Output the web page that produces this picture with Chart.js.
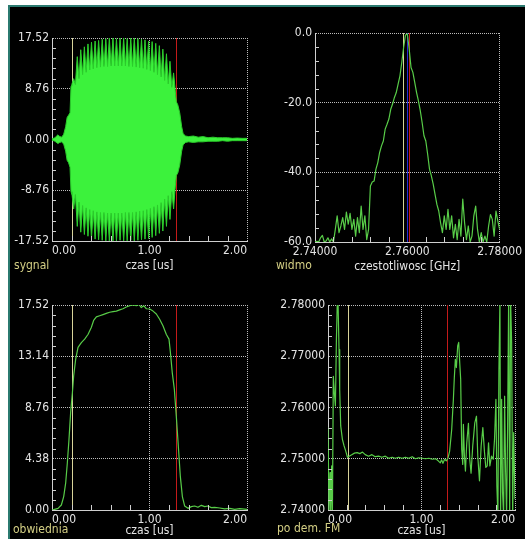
<!DOCTYPE html>
<html lang="pl">
<head>
<meta charset="utf-8">
<title>sygnal / widmo / obwiednia / po dem. FM</title>
<script src="https://cdn.jsdelivr.net/npm/chart.js@4"></script>
<style>
  html, body { margin: 0; padding: 0; background: #fff; }
  body { width: 525px; height: 539px; position: relative; overflow: hidden; }
  #ekran { position: absolute; left: 8px; top: 5px; width: 515px; height: 532px; background: #000;
           border-left: 2px solid #2b7a70; border-top: 2px solid #2b7a70; }
  canvas { position: absolute; }
  .nazwa { position: absolute; color: #d4cf84; line-height: 14px; white-space: nowrap;
           font: 12px "Liberation Sans Narrow", "Arial Narrow", "DejaVu Sans Condensed", sans-serif; }
</style>
</head>
<body>
<div id="ekran"></div>
<canvas id="cSygnal" width="252" height="272" style="left:10px;top:8px"></canvas>
<canvas id="cWidmo" width="263" height="272" style="left:262px;top:8px"></canvas>
<canvas id="cObwiednia" width="252" height="259" style="left:10px;top:280px"></canvas>
<canvas id="cFm" width="263" height="259" style="left:262px;top:280px"></canvas>
<div class="nazwa" style="left:14px;top:258px">sygnal</div>
<div class="nazwa" style="left:276px;top:258px">widmo</div>
<div class="nazwa" style="left:13px;top:522px">obwiednia</div>
<div class="nazwa" style="left:277px;top:521px">po dem. FM</div>

<script>
// ---- dane ----

// sygnal: gorna i dolna krawedz wypelnionego przebiegu (szpilki / doliny)
const sygnalT = [
  0.000, 0.030, 0.060, 0.080, 0.100, 0.120, 0.140, 0.155, 0.170, 0.185, 0.195, 0.205,
  0.222, 0.240, 0.259, 0.277, 0.295, 0.314, 0.332, 0.350, 0.369, 0.387,
  0.405, 0.423, 0.442, 0.460, 0.478, 0.497, 0.515, 0.533, 0.552, 0.570,
  0.588, 0.606, 0.625, 0.643, 0.661, 0.680, 0.698, 0.716, 0.735, 0.753,
  0.771, 0.789, 0.808, 0.826, 0.844, 0.863, 0.881, 0.899, 0.918, 0.936,
  0.954, 0.972, 0.991, 1.009, 1.027, 1.046, 1.064, 1.082, 1.101, 1.119,
  1.137, 1.155, 1.174, 1.192, 1.210, 1.229, 1.247,
  1.262, 1.275, 1.290, 1.310, 1.330, 1.345, 1.370, 1.400, 1.450, 1.500,
  1.550, 1.600, 1.650, 1.700, 1.750, 1.800, 1.850, 1.900, 1.950, 2.000
];
const sygnalGora = [
  0.1, 0.3, 0.8, 0.5, 0.4, 0.9, 2.2, 3.8, 4.2, 4.6, 9.2, 9.6,
  10.5, 9.5, 14.3, 10.5, 15.5, 11.2, 16.0, 11.6, 16.5, 12.0,
  16.8, 12.2, 17.0, 12.4, 17.1, 12.5, 17.3, 12.6, 17.4, 12.6,
  17.5, 12.7, 17.5, 12.7, 17.4, 12.7, 17.5, 12.7, 17.5, 12.7,
  17.4, 12.6, 17.5, 12.6, 17.5, 12.5, 17.4, 12.4, 17.3, 12.3,
  17.2, 12.1, 17.0, 11.9, 16.9, 11.6, 16.6, 11.2, 16.2, 10.8,
  15.6, 10.2, 14.8, 9.6, 13.5, 9.0, 11.5,
  8.8, 6.5, 6.0, 4.6, 2.2, 1.0, 0.6, 0.5, 0.6, 0.4,
  0.5, 0.3, 0.4, 0.3, 0.3, 0.3, 0.2, 0.25, 0.2, 0.2
];
const sygnalDol = [
  -0.1, -0.3, -0.7, -0.5, -0.4, -0.8, -2.0, -3.6, -4.0, -4.8, -9.0, -9.5,
  -12.0, -9.5, -15.0, -10.8, -16.0, -11.4, -16.4, -11.8, -16.7, -12.1,
  -17.0, -12.3, -17.2, -12.5, -17.3, -12.6, -17.4, -12.6, -17.5, -12.7,
  -17.5, -12.7, -17.5, -12.7, -17.5, -12.7, -17.4, -12.7, -17.5, -12.6,
  -17.5, -12.6, -17.4, -12.6, -17.5, -12.5, -17.4, -12.4, -17.3, -12.3,
  -17.2, -12.1, -17.1, -11.9, -16.9, -11.6, -16.6, -11.3, -16.2, -10.9,
  -15.8, -10.3, -15.0, -9.7, -13.8, -9.0, -12.0,
  -8.6, -6.2, -5.8, -4.4, -2.0, -0.9, -0.5, -0.4, -0.5, -0.4,
  -0.4, -0.3, -0.3, -0.3, -0.2, -0.3, -0.2, -0.2, -0.2, -0.2
];
const sygnalYTicks = [-17.52, -8.76, 0, 8.76, 17.52];
const sygnalYLabels = ["-17.52", "-8.76", "0.00", "8.76", "17.52"];

// widmo [dB], probki co 0.0004 GHz od 2.74000
const WIDMO_START = 2.74;
const WIDMO_KROK = 0.0004;
const widmoDb = [
  -60.0, -59.8, -60.0, -58.8, -58.1, -60.0, -59.7, -58.8, -60.0, -59.1,
  -60.0, -56.4, -52.5, -57.3, -55.4, -53.0, -56.4, -51.4, -54.9, -51.8,
  -56.4, -53.5, -58.3, -53.0, -57.3, -49.7, -56.4, -52.5, -59.3, -56.4,
  -43.9, -42.8, -42.5, -39.1, -37.2, -34.3, -32.4, -31.0, -27.6, -26.2,
  -24.7, -21.9, -20.4, -18.5, -17.1, -14.7, -12.3, -8.4, -4.1, -0.6,
  -0.3, -4.6, -9.9, -11.3, -14.2, -17.1, -19.5, -22.3, -25.7, -29.5,
  -31.0, -34.8, -39.1, -41.0, -43.4, -46.3, -49.2, -51.1, -54.5, -57.3,
  -52.5, -56.4, -50.6, -56.4, -52.5, -58.8, -54.9, -59.3, -53.5, -58.3,
  -47.7, -54.5, -59.3, -55.4, -60.0, -58.3, -52.5, -49.7, -56.4, -60.0,
  -57.3, -60.0, -58.3, -60.0, -55.4, -52.1, -53.5, -58.3, -51.1, -54.0,
  -56.4
];
const widmoXTicks = [2.74, 2.76, 2.78];
const widmoXLabels = ["2.74000", "2.76000", "2.78000"];
const widmoYTicks = [-60, -40, -20, 0];
const widmoYLabels = ["-60.0", "-40.0", "-20.0", "0.0"];

// obwiednia
const obwT = [
  0.000, 0.027, 0.062, 0.096, 0.120, 0.140, 0.157, 0.174, 0.191, 0.209,
  0.222, 0.243, 0.267, 0.301, 0.335, 0.369, 0.403, 0.427, 0.455, 0.489,
  0.523, 0.557, 0.591, 0.626, 0.660, 0.694, 0.728, 0.762, 0.797, 0.831,
  0.865, 0.892, 0.916, 0.940, 0.968, 1.002, 1.036, 1.070, 1.104, 1.138,
  1.173, 1.200, 1.214, 1.234, 1.255, 1.275, 1.296, 1.316, 1.337, 1.361,
  1.395, 1.429, 1.463, 1.497, 1.532, 1.566, 1.600, 1.634, 1.668, 1.720,
  1.771, 1.822, 1.874, 1.925, 2.000
];
const obwV = [
  0.00, 0.06, 0.14, 0.43, 1.15, 2.29, 4.0, 6.0, 8.3, 10.0,
  11.45, 12.9, 13.9, 14.3, 14.6, 15.0, 15.6, 16.2, 16.5, 16.6,
  16.7, 16.8, 16.9, 16.95, 17.0, 17.1, 17.2, 17.35, 17.46, 17.52,
  17.46, 17.58, 17.3, 17.46, 17.2, 17.18, 17.0, 16.75, 16.3, 15.75,
  15.0, 14.6, 13.5, 11.7, 10.3, 8.0, 5.4, 2.9, 1.15, 0.34,
  0.14, 0.29, 0.34, 0.23, 0.4, 0.29, 0.34, 0.2, 0.23, 0.17,
  0.09, 0.14, 0.06, 0.11, 0.06
];
const obwYTicks = [0, 4.38, 8.76, 13.14, 17.52];
const obwYLabels = ["0.00", "4.38", "8.76", "13.14", "17.52"];

// czestotliwosc chwilowa po demodulacji FM [GHz]
const fmT = [
  0.000, 0.011, 0.022, 0.029, 0.039, 0.047, 0.057, 0.068, 0.079, 0.090,
  0.100, 0.108, 0.118, 0.125, 0.136, 0.154, 0.172, 0.190, 0.208, 0.226,
  0.254, 0.283, 0.312, 0.341, 0.369, 0.398, 0.434, 0.470, 0.505, 0.541,
  0.577, 0.613, 0.649, 0.685, 0.720, 0.756, 0.792, 0.828, 0.864, 0.900,
  0.935, 0.971, 1.007, 1.043, 1.079, 1.115, 1.151, 1.179, 1.201, 1.215,
  1.229, 1.247, 1.265, 1.283, 1.301, 1.323, 1.341, 1.351, 1.362, 1.373,
  1.387, 1.398, 1.409, 1.419, 1.430, 1.441, 1.448, 1.459, 1.470, 1.484,
  1.502, 1.516, 1.530, 1.548, 1.570, 1.588, 1.602, 1.620, 1.638, 1.656,
  1.674, 1.688, 1.703, 1.717, 1.731, 1.749, 1.767, 1.781, 1.796, 1.806,
  1.817, 1.828, 1.839, 1.846, 1.857, 1.867, 1.878, 1.889, 1.900, 1.910,
  1.921, 1.932, 1.943, 1.953, 1.964, 1.975, 1.986, 2.000
];
const fmF = [
  2.7561, 2.7400, 2.7473, 2.7390, 2.7486, 2.7390, 2.7661, 2.7629, 2.7603, 2.7733,
  2.7810, 2.7800, 2.7713, 2.7635, 2.7564, 2.7538, 2.7525, 2.7515, 2.7503, 2.7505,
  2.7508, 2.7511, 2.7512, 2.7510, 2.7513, 2.7508, 2.7505, 2.7508, 2.7504, 2.7505,
  2.7503, 2.7505, 2.7501, 2.7503, 2.7501, 2.7503, 2.7501, 2.7503, 2.7501, 2.7504,
  2.7500, 2.7502, 2.7501, 2.7500, 2.7501, 2.7499, 2.7500, 2.7496, 2.7492, 2.7498,
  2.7491, 2.7499, 2.7496, 2.7501, 2.7515, 2.7557, 2.7616, 2.7658, 2.7694, 2.7678,
  2.7720, 2.7727, 2.7687, 2.7655, 2.7518, 2.7489, 2.7567, 2.7505, 2.7476, 2.7531,
  2.7569, 2.7499, 2.7472, 2.7525, 2.7570, 2.7583, 2.7505, 2.7457, 2.7525, 2.7561,
  2.7512, 2.7483, 2.7486, 2.7531, 2.7486, 2.7505, 2.7499, 2.7538, 2.7616, 2.7447,
  2.7390, 2.7674, 2.7810, 2.7390, 2.7616, 2.7434, 2.7390, 2.7622, 2.7473, 2.7390,
  2.7564, 2.7810, 2.7390, 2.7810, 2.7727, 2.7390, 2.7551, 2.7421
];
const fmYTicks = [2.74, 2.75, 2.76, 2.77, 2.78];
const fmYLabels = ["2.74000", "2.75000", "2.76000", "2.77000", "2.78000"];

// wspolne dla osi czasu
const czasXTicks = [0, 1, 2];
const czasXLabels = ["0.00", "1.00", "2.00"];

// kursory (pionowe znaczniki)
const kursoryCzasu = [0.21, 1.27];
const kursoryWidma = [2.7591, 2.7599, 2.7603];

// ---- wyglad ----
const CZCIONKA = { family: "'Liberation Sans Narrow', 'Arial Narrow', 'DejaVu Sans Condensed', sans-serif", size: 12 };
const TEKST = "#e4e4e4";
const OS_KOLOR = "#cfcfcf";
const SIATKA = "#bdbdbd";
const SLAD = "#58cc48";
const KURSOR_KOLORY = { kremowy: "#d8d49a", niebieski: "#2a2ad8", czerwony: "#c41a1a" };

// podzialki pomocnicze (5 na przedzial) wewnatrz ramki
function podzialki(scale, n = 5) {
  const v = scale.ticks.map((t) => t.value).sort((p, q) => p - q);
  const out = [];
  for (let i = 0; i < v.length - 1; i++) {
    for (let k = 1; k < n; k++) out.push(scale.getPixelForValue(v[i] + ((v[i + 1] - v[i]) * k) / n));
  }
  return out;
}

const oscyloskop = {
  id: "oscyloskop",
  beforeDatasetsDraw(chart, args, opts) {
    const { ctx, chartArea: a, scales: { x } } = chart;
    ctx.save();
    ctx.lineWidth = 1;
    (opts.kursory || []).forEach((k) => {
      const px = Math.round(x.getPixelForValue(k.wartosc)) + 0.5;
      ctx.strokeStyle = k.kolor;
      ctx.beginPath();
      ctx.moveTo(px, a.top);
      ctx.lineTo(px, a.bottom);
      ctx.stroke();
    });
    ctx.restore();
  },
  afterDraw(chart) {
    const { ctx, chartArea: a, scales: { x, y } } = chart;
    ctx.save();
    ctx.strokeStyle = OS_KOLOR;
    ctx.lineWidth = 1;
    ctx.beginPath();
    podzialki(x).forEach((px) => {
      px = Math.round(px) + 0.5;
      ctx.moveTo(px, a.bottom);
      ctx.lineTo(px, a.bottom - 5);
    });
    podzialki(y).forEach((py) => {
      py = Math.round(py) + 0.5;
      ctx.moveTo(a.left, py);
      ctx.lineTo(a.left + 4, py);
    });
    ctx.stroke();
    ctx.restore();
  },
};

function osie(o) {
  return {
    x: {
      type: "linear",
      min: o.xMin,
      max: o.xMax,
      afterBuildTicks: (s) => { s.ticks = o.xTicks.map((v) => ({ value: v })); },
      afterFit: (s) => { s.height = o.xH; },
      grid: { color: SIATKA, drawTicks: false },
      border: { color: OS_KOLOR, dash: [1, 1] },
      ticks: {
        color: TEKST, font: CZCIONKA, padding: 3, autoSkip: false, maxRotation: 0,
        align: o.xAlign, callback: (v, i) => o.xLabels[i],
      },
      title: { display: true, text: o.xTytul, color: TEKST, font: CZCIONKA, padding: { top: 0, bottom: o.tytulDol } },
    },
    y: {
      type: "linear",
      min: o.yMin,
      max: o.yMax,
      afterBuildTicks: (s) => { s.ticks = o.yTicks.map((v) => ({ value: v })); },
      afterFit: (s) => { s.width = o.yW; },
      grid: { color: SIATKA, drawTicks: false },
      border: { color: OS_KOLOR, dash: [1, 1] },
      ticks: { color: TEKST, font: CZCIONKA, padding: 3, autoSkip: false, callback: (v, i) => o.yLabels[i] },
    },
  };
}

function pkt(xs, ys) {
  return xs.map((x, i) => ({ x: x, y: ys[i] }));
}

function oscylogram(id, datasets, o) {
  return new Chart(document.getElementById(id), {
    type: "line",
    data: { datasets: datasets },
    options: {
      responsive: false,
      animation: false,
      devicePixelRatio: 1,
      layout: { padding: o.padding },
      elements: { point: { radius: 0 }, line: { tension: 0, borderJoinStyle: "round" } },
      plugins: {
        legend: { display: false },
        tooltip: { enabled: false },
        oscyloskop: { kursory: o.kursory },
      },
      scales: osie(o),
    },
    plugins: [oscyloskop],
  });
}

const kursoryT = [
  { wartosc: kursoryCzasu[0], kolor: KURSOR_KOLORY.kremowy },
  { wartosc: kursoryCzasu[1], kolor: KURSOR_KOLORY.czerwony },
];

// sygnal
oscylogram("cSygnal", [
  { data: pkt(sygnalT, sygnalGora), borderColor: "#2ccc2c", borderWidth: 1, fill: false },
  { data: pkt(sygnalT, sygnalDol), borderColor: "#2ccc2c", borderWidth: 1, fill: "-1", backgroundColor: "#3cf23c" },
], {
  xMin: 0, xMax: 2, xTicks: czasXTicks, xLabels: czasXLabels, xAlign: "inner", xH: 39, xTytul: "czas [us]", tytulDol: 7,
  yMin: -17.52, yMax: 17.52, yTicks: sygnalYTicks, yLabels: sygnalYLabels, yW: 42,
  padding: { left: 0, right: 15, top: 30, bottom: 0 },
  kursory: kursoryT,
});

// widmo
oscylogram("cWidmo", [
  { data: widmoDb.map((db, i) => ({ x: WIDMO_START + i * WIDMO_KROK, y: db })), borderColor: SLAD, borderWidth: 1.2, fill: false },
], {
  xMin: 2.74, xMax: 2.78, xTicks: widmoXTicks, xLabels: widmoXLabels, xAlign: "center", xH: 38, xTytul: "czestotliwosc [GHz]", tytulDol: 6,
  yMin: -60, yMax: 0, yTicks: widmoYTicks, yLabels: widmoYLabels, yW: 53,
  padding: { left: 0, right: 22, top: 25, bottom: 0 },
  kursory: [
    { wartosc: kursoryWidma[0], kolor: KURSOR_KOLORY.kremowy },
    { wartosc: kursoryWidma[1], kolor: KURSOR_KOLORY.niebieski },
    { wartosc: kursoryWidma[2], kolor: KURSOR_KOLORY.czerwony },
  ],
});

// obwiednia
oscylogram("cObwiednia", [
  { data: pkt(obwT, obwV), borderColor: SLAD, borderWidth: 1.2, fill: false },
], {
  xMin: 0, xMax: 2, xTicks: czasXTicks, xLabels: czasXLabels, xAlign: "inner", xH: 29, xTytul: "czas [us]", tytulDol: 1,
  yMin: 0, yMax: 17.52, yTicks: obwYTicks, yLabels: obwYLabels, yW: 42,
  padding: { left: 0, right: 15, top: 25, bottom: 0 },
  kursory: kursoryT,
});

// po demodulacji FM
oscylogram("cFm", [
  { data: pkt(fmT, fmF), borderColor: SLAD, borderWidth: 1.2, fill: false },
], {
  xMin: 0, xMax: 2, xTicks: czasXTicks, xLabels: czasXLabels, xAlign: "inner", xH: 29, xTytul: "czas [us]", tytulDol: 1,
  yMin: 2.74, yMax: 2.78, yTicks: fmYTicks, yLabels: fmYLabels, yW: 66,
  padding: { left: 0, right: 10, top: 25, bottom: 0 },
  kursory: kursoryT,
});
</script>
</body>
</html>
